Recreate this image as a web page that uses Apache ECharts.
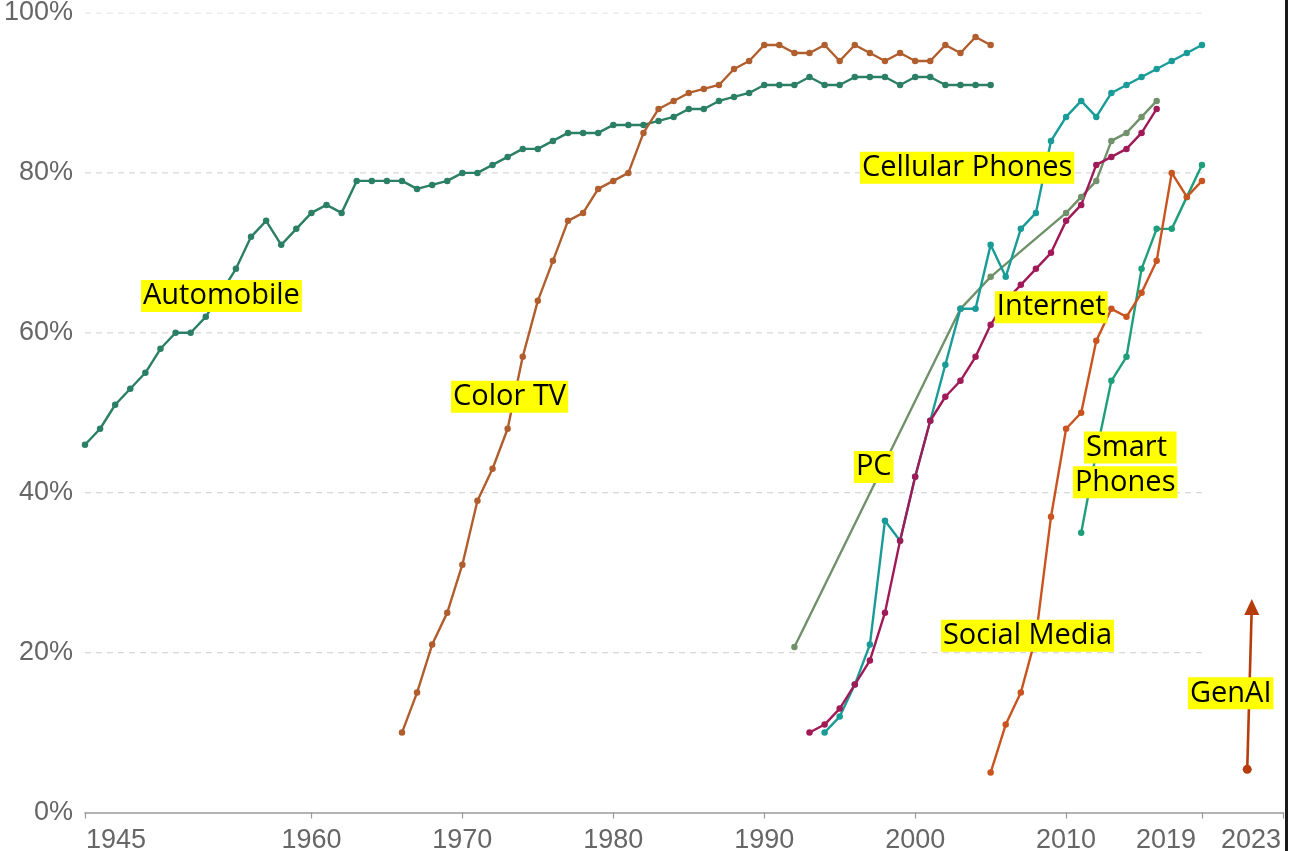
<!DOCTYPE html>
<html><head><meta charset="utf-8">
<script src="https://cdn.jsdelivr.net/npm/echarts@6/dist/echarts.min.js"></script>
<style>html,body{margin:0;padding:0;background:#fff}#c{width:1289px;height:851px}</style>
</head><body><div id="c"></div>
<script>
// ---------- DATA ----------
const automobileStart = 1945;
const automobileValues = [46,48,51,53,55,58,60,60,62,65,68,72,74,71,73,75,76,75,79,79,79,79,78,78.5,79,80,80,81,82,83,83,84,85,85,85,86,86,86,86.5,87,88,88,89,89.5,90,91,91,91,92,91,91,92,92,92,91,92,92,91,91,91,91];
const colorTvStart = 1966;
const colorTvValues = [10,15,21,25,31,39,43,48,57,64,69,74,75,78,79,80,85,88,89,90,90.5,91,93,94,96,96,95,95,96,94,96,95,94,95,94,94,96,95,97,96];
const cellularStart = 1994;
const cellularValues = [10,12,16,21,36.5,34,42,49,56,63,63,71,67,73,75,84,87,89,87,90,91,92,93,94,95,96];
const internetStart = 1993;
const internetValues = [10,11,13,16,19,25,34,42,49,52,54,57,61,64,66,68,70,74,76,81,82,83,85,88];
const pcYears = [1992,2003,2005,2010,2011,2012,2013,2014,2015,2016];
const pcValues = [20.7,63,67,75,77,79,84,85,87,89];
const socialYears = [2005,2006,2007,2008,2009,2010,2011,2012,2013,2014,2015,2016,2017,2018,2019];
const socialValues = [5,11,15,22,37,48,50,59,63,62,65,69,80,77,79];
const smartStart = 2011;
const smartValues = [35,45,54,57,68,73,73,77,81];
const genAiYears = [2022, 2022.3];
const genAiValues = [5.4, 25.7];

// axis ticks / labels
const xTickValues = [1945,1960,1970,1980,1990,2000,2010,2019,2024.37];
const xTickLabels = ['1945','1960','1970','1980','1990','2000','2010','2019','2023'];
const xMin = 1945, xMax = 2024.37;
const gridLineValues = [20,40,60,80,100];
const gridLineEnd = 2019;

// annotation texts and anchor (left edge, vertical centre) in data space
const annotations = [
  {text:'Automobile', x:1948.71, y:64.6},
  {text:'Color TV', x:1969.25, y:52.0},
  {text:'Cellular Phones', x:1996.34, y:80.65},
  {text:'Internet', x:2005.28, y:63.2},
  {text:'PC', x:1995.94, y:43.2},
  {text:'Social Media', x:2001.71, y:22.1},
  {text:'Smart ', x:2011.18, y:45.65},
  {text:'Phones', x:2010.45, y:41.3},
  {text:'GenAI', x:2018.07, y:14.9}
];

// ---------- BUILD ----------
const seq = (start, vals) => vals.map((v,i)=>[start+i, v]);
const zip = (xs, vals) => vals.map((v,i)=>[xs[i], v]);

function lineSeries(name, data, color, z){
  return {name, type:'line', data, z, symbol:'circle', symbolSize:6.5,
    lineStyle:{color, width:2.4}, itemStyle:{color, opacity:1}, silent:true, animation:false};
}

const series = [];
gridLineValues.forEach(v=>{
  series.push({type:'line', data:[[xMin,v],[gridLineEnd,v]], symbol:'none', silent:true, z:1,
    lineStyle:{color:'#d8d8d8', width:1.2, type:[6,5]}, animation:false});
});
series.push(lineSeries('Automobile', seq(automobileStart, automobileValues), '#2b7f64', 3));
series.push(lineSeries('Color TV', seq(colorTvStart, colorTvValues), '#b05e2e', 3));
series.push(lineSeries('PC', zip(pcYears, pcValues), '#71916a', 3));
series.push(lineSeries('Cellular Phones', seq(cellularStart, cellularValues), '#199b98', 3));
series.push(lineSeries('Internet', seq(internetStart, internetValues), '#a01a58', 3));
series.push(lineSeries('Smart Phones', seq(smartStart, smartValues), '#1f9e7c', 3));
series.push(lineSeries('Social Media', zip(socialYears, socialValues), '#c9541f', 3));
const genAiData = zip(genAiYears, genAiValues).map((p,i)=>({value:p,
  symbol: i===0 ? 'circle' : 'triangle', symbolSize: i===0 ? 9 : [15,16]}));
series.push({name:'GenAI', type:'line', data:genAiData, z:4, silent:true, animation:false,
  lineStyle:{color:'#b63c0c', width:2.6}, itemStyle:{color:'#b63c0c', opacity:1}});
series.push({type:'scatter', symbolSize:0, z:10, silent:true, animation:false,
  itemStyle:{opacity:1},
  data: annotations.map(a=>({value:[a.x,a.y], label:{formatter:a.text}})),
  label:{show:true, position:'right', distance:0, backgroundColor:'#ffff00', color:'#000', opacity:1,
    fontFamily:'Open Sans', fontSize:29, lineHeight:32, padding:[0,2]}});

const lblFont = {fontSize:27, color:'#666', fontFamily:'Liberation Sans'};
const chart = echarts.init(document.getElementById('c'), null, {renderer:'canvas'});
chart.setOption({
  backgroundColor:'#fff',
  animation:false,
  grid:{left:85, right:6, top:13, bottom:38.5, outerBoundsMode:'none', containLabel:false},
  xAxis:{type:'value', min:xMin, max:xMax,
    axisLine:{show:true, lineStyle:{color:'#9a9a9a', width:1.5}},
    axisTick:{show:true, customValues:xTickValues, length:6, lineStyle:{color:'#9a9a9a', width:1.2}},
    splitLine:{show:false},
    axisLabel:Object.assign({}, lblFont, {customValues:xTickValues, margin:15, showMinLabel:true, showMaxLabel:true,
      formatter:(v)=>{
        let i = xTickValues.findIndex(t=>Math.abs(t-v)<1e-6);
        if(i<0) return '';
        const s = xTickLabels[i];
        if(i===0) return '{l|'+s+'}';
        if(i===xTickValues.length-1) return '{r|'+s+'}';
        if(i===xTickValues.length-2) return '{r2|'+s+'}';
        return s;
      },
      rich:{
        l:Object.assign({}, lblFont, {padding:[0,0,0,62]}),
        r:Object.assign({}, lblFont, {padding:[0,64,0,0]}),
        r2:Object.assign({}, lblFont, {padding:[0,72,0,0]})
      }})
  },
  yAxis:{type:'value', min:0, max:100, interval:20,
    axisLine:{show:false}, axisTick:{show:false}, splitLine:{show:false},
    axisLabel:Object.assign({}, lblFont, {formatter:'{value}%', margin:12})
  },
  graphic:[{type:'rect', left:1285, top:0, shape:{width:3, height:851}, style:{fill:'#1a1a1a'}, silent:true}],
  series
});
</script></body></html>
